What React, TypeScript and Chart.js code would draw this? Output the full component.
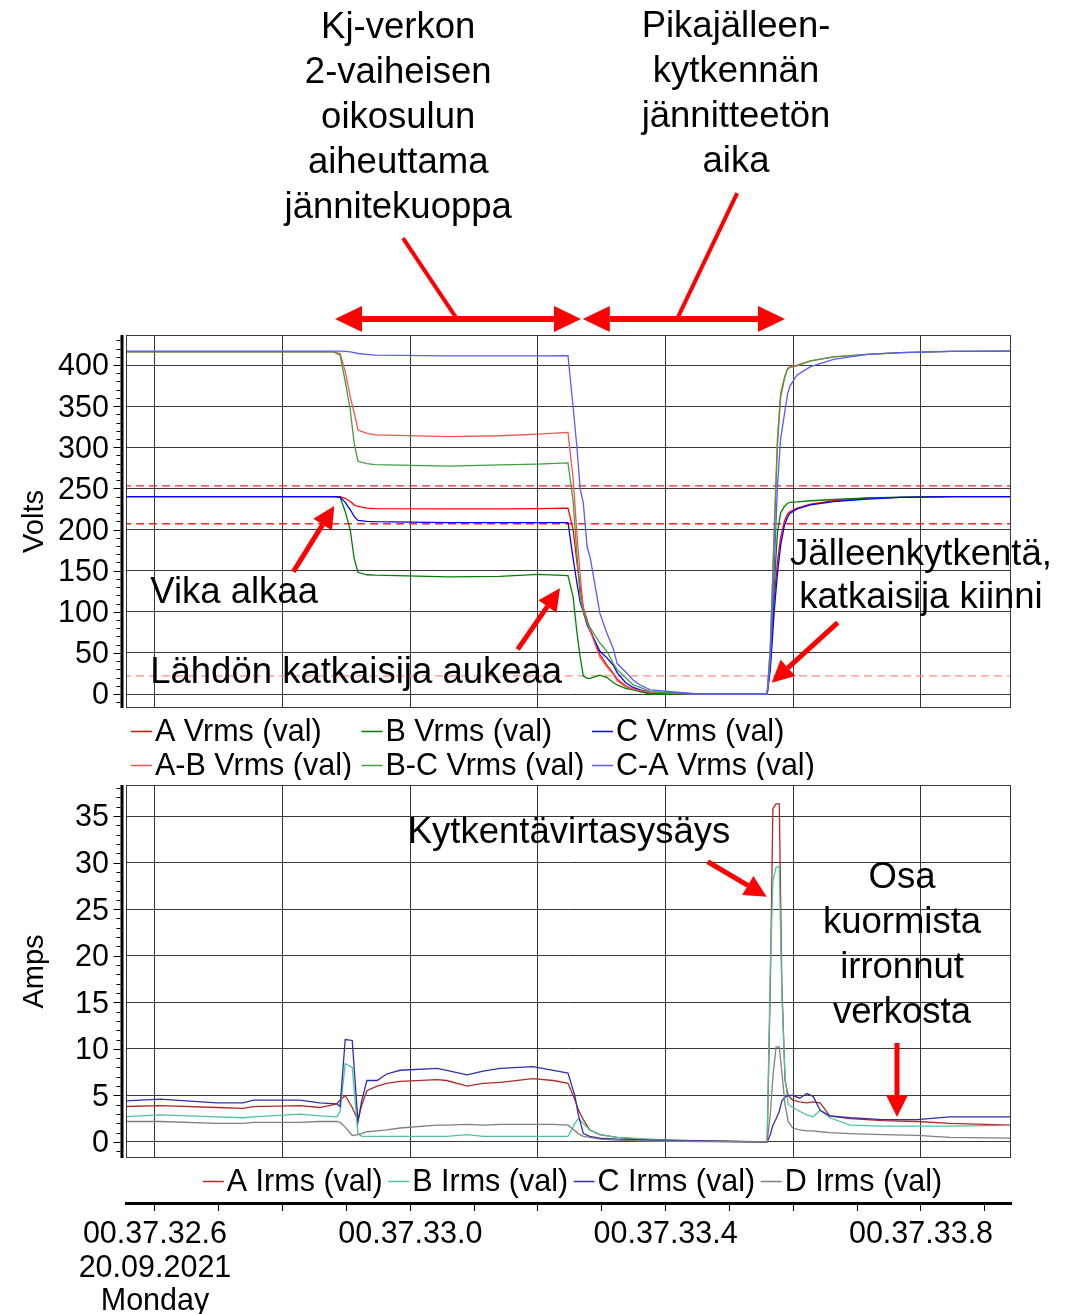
import React, { useEffect, useRef } from 'react';
import { Chart, registerables } from 'chart.js';

Chart.register(...registerables);

const FONT = '"Liberation Sans", Arial, Helvetica, sans-serif';
Chart.defaults.font.family = FONT;
Chart.defaults.color = '#000';

// ---------- time axis (seconds of 00.37.xx) ----------
const timeMin = 32.5546;
const timeMax = 33.941;
const timeTickValues = [32.6, 33.0, 33.4, 33.8];
const timeTickLabels = [['00.37.32.6', '20.09.2021', 'Monday'], ['00.37.33.0'], ['00.37.33.4'], ['00.37.33.8']];

// ---------- voltage chart ----------
const voltTimes = [32.55, 32.7, 32.88, 32.89, 32.898, 32.906, 32.912, 32.918, 32.932, 32.945,
  33.06, 33.14, 33.2, 33.247,
  33.255, 33.261, 33.266, 33.271, 33.277, 33.282, 33.297, 33.308, 33.318, 33.324, 33.337, 33.349, 33.36, 33.376, 33.45,
  33.559, 33.564, 33.57, 33.575, 33.58, 33.586, 33.591, 33.595, 33.606, 33.627, 33.663, 33.716, 33.768, 33.846, 33.95];
const aVrms = [240, 240, 240, 240, 238, 234, 230, 228, 226, 225.5,
  225, 225, 225.5, 226,
  200, 160, 130, 105, 90, 78, 48, 35, 25, 18, 10, 6, 3, 1, 0,
  0, 38, 115, 160, 190, 210, 219, 222, 226, 231, 235, 238, 239, 240, 240];
const bVrms = [240, 240, 240, 239, 222, 199, 165, 148, 145, 144.5,
  142.5, 143, 145.5, 144,
  118, 75, 45, 22, 19, 19, 23, 20, 14, 11, 7, 5, 3, 0, 0,
  0, 40, 130, 195, 220, 228, 232, 233, 233.5, 235, 236.5, 238.5, 239.5, 240, 240];
const cVrms = [240, 240, 240, 239.5, 233, 224, 216, 211, 210, 209.5,
  208.5, 208.5, 208.5, 208.5,
  165, 135, 112, 100, 84, 76, 52, 44, 35, 26, 14, 8, 5, 2, 0,
  0, 30, 100, 145, 180, 205, 215, 220, 225, 230, 234, 237, 239, 240, 240];
const abVrms = [416, 416, 416, 414, 392, 361, 342, 321, 317, 315,
  313, 314, 316, 318,
  262, 195, 145, 104, 88, 76, 45, 33, 24, 16, 9, 6, 4, 2, 0,
  0, 60, 200, 310, 365, 385, 396, 398, 400, 405, 410, 413, 415, 416.5, 417];
const bcVrms = [416, 416, 416, 412, 380, 345, 305, 283, 280, 279,
  277, 278.5, 279.5, 281,
  235, 170, 118, 100, 86, 80, 62, 52, 37, 30, 20, 11, 8, 3, 0,
  0, 55, 190, 300, 360, 383, 395, 397, 399, 405, 410, 413, 415, 416.5, 417];
const caVrms = [417, 417, 417, 417, 416.5, 416, 415, 414, 413, 412,
  411, 411, 411, 411.5,
  349, 300, 250, 232, 179, 165, 98, 74, 55, 37, 27, 17, 11, 5, 0,
  0, 40, 150, 250, 310, 340, 365, 375, 388, 398, 407, 413, 415, 416.5, 417];
const voltSeries = [aVrms, bVrms, cVrms, abVrms, bcVrms, caVrms];
const voltLabels = ['A Vrms (val)', 'B Vrms (val)', 'C Vrms (val)', 'A-B Vrms (val)', 'B-C Vrms (val)', 'C-A Vrms (val)'];
const voltColors = ['#ff0000', '#008000', '#0000ff', '#ff5050', '#40a040', '#5a5aff'];
const voltLimits = [253, 207, 22];
const voltLimitColors = ['#ff2020', '#ff2020', '#ff8c8c'];
const voltMin = -17;
const voltMax = 436.5;
const voltTickValues = [0, 50, 100, 150, 200, 250, 300, 350, 400];

// ---------- current chart ----------
const curTimes = [32.55, 32.608, 32.697, 32.738, 32.754, 32.827, 32.858, 32.885, 32.89, 32.898,
  32.909, 32.918, 32.924, 32.932, 32.948, 32.963, 32.984, 33.042, 33.057, 33.089,
  33.114, 33.141, 33.192, 33.224, 33.247, 33.258, 33.263, 33.271, 33.281, 33.297,
  33.324, 33.375, 33.454, 33.559, 33.564, 33.568, 33.573, 33.578, 33.582, 33.587,
  33.592, 33.599, 33.61, 33.621, 33.631, 33.642, 33.657, 33.689, 33.74, 33.794,
  33.845, 33.95];
const aIrms = [3.8, 3.9, 3.7, 3.6, 3.8, 3.9, 3.7, 4.1, 4.5, 5.0,
  3.7, 2.3, 4.0, 5.5, 6.0, 6.3, 6.5, 6.7, 6.6, 6.0,
  6.3, 6.4, 6.8, 6.6, 6.3, 4.5, 3.5, 2.4, 1.3, 0.8,
  0.5, 0.2, 0.1, 0, 17, 35.8, 36.3, 36.3, 17, 6.6,
  5.0, 4.5, 4.3, 4.2, 4.3, 4.2, 2.8, 2.5, 2.3, 2.2,
  2.0, 1.8];
const bIrms = [2.7, 2.9, 2.7, 2.6, 2.7, 3.0, 2.8, 2.7, 3.3, 8.4,
  8.0, 0.9, 0.6, 0.6, 0.6, 0.6, 0.6, 0.6, 0.6, 0.8,
  0.6, 0.6, 0.6, 0.6, 0.6, 2.0, 2.5, 2.0, 1.3, 0.8,
  0.5, 0.3, 0.1, 0, 18.8, 28.0, 29.5, 29.6, 16, 7,
  4.0, 3.7, 3.3, 2.9, 2.7, 3.4, 2.6, 1.8, 1.7, 1.7,
  1.7, 1.8];
const cIrms = [4.4, 4.6, 4.2, 4.2, 4.5, 4.5, 4.2, 4.1, 3.8, 11.0,
  10.9, 2.2, 4.5, 6.6, 6.6, 7.3, 7.7, 7.9, 7.7, 7.2,
  7.6, 7.9, 8.1, 7.7, 7.4, 4.9, 3.0, 0.9, 0.6, 0.4,
  0.3, 0.2, 0.15, 0, 0.8, 1.8, 2.5, 3.3, 4.4, 4.8,
  5.0, 5.0, 4.7, 5.2, 4.9, 3.4, 2.8, 2.6, 2.4, 2.4,
  2.7, 2.7];
const dIrms = [2.2, 2.2, 2.0, 2.0, 2.1, 2.1, 2.2, 2.2, 2.1, 1.6,
  0.7, 0.8, 0.9, 1.1, 1.2, 1.3, 1.5, 1.8, 1.8, 1.9,
  1.8, 1.9, 1.9, 1.9, 1.8, 1.2, 0.9, 0.6, 0.5, 0.3,
  0.2, 0.1, 0.05, 0, 3.0, 7.0, 10.2, 10.2, 7.5, 4.0,
  2.2, 1.5, 1.3, 1.2, 1.2, 1.1, 1.0, 0.9, 0.8, 0.7,
  0.5, 0.4];
const curSeries = [aIrms, bIrms, cIrms, dIrms];
const curLabels = ['A Irms (val)', 'B Irms (val)', 'C Irms (val)', 'D Irms (val)'];
const curColors = ['#b02a2a', '#4cc49a', '#3030aa', '#808080'];
const curMin = -1.72;
const curMax = 38.33;
const curTickValues = [0, 5, 10, 15, 20, 25, 30, 35];

// ---------- annotations (time, value anchors; text baseline at anchor) ----------
const voltNotes = {
  texts: [
    { t: 32.981, v: 797.6, align: 'center', gap: 45, lines: ['Kj-verkon', '2-vaiheisen', 'oikosulun', 'aiheuttama', 'jännitekuoppa'] },
    { t: 33.5102, v: 798.4, align: 'center', gap: 45, lines: ['Pikajälleen-', 'kytkennän', 'jännitteetön', 'aika'] },
    { t: 32.5925, v: 110.6, align: 'left', gap: 0, lines: ['Vika alkaa'] },
    { t: 32.5925, v: 13.4, align: 'left', gap: 0, lines: ['Lähdön katkaisija aukeaa'] },
    { t: 33.8, v: 156.8, align: 'center', gap: 43, lines: ['Jälleenkytkentä,', 'katkaisija kiinni'] },
  ],
  spans: [{ t1: 32.882, t2: 33.2674, v: 456 }, { t1: 33.2702, t2: 33.587, v: 456 }],
  links: [{ t1: 32.9885, v1: 554.4, t2: 33.073, v2: 456 }, { t1: 33.512, v1: 609.1, t2: 33.418, v2: 456 }],
  arrows: [
    { t1: 32.8167, v1: 148.7, t2: 32.8809, v2: 228.6 },
    { t1: 33.1682, v1: 54.3, t2: 33.2345, v2: 128.5 },
    { t1: 33.6695, v1: 86.7, t2: 33.5661, v2: 13.7 },
  ],
};
const curNotes = {
  texts: [
    { t: 33.2486, v: 32.1, align: 'center', gap: 0, lines: ['Kytkentävirtasysäys'] },
    { t: 33.7703, v: 27.27, align: 'center', gap: 45, lines: ['Osa', 'kuormista', 'irronnut', 'verkosta'] },
  ],
  spans: [],
  links: [],
  arrows: [
    { t1: 33.4659, v1: 30.09, t2: 33.5583, v2: 26.34 },
    { t1: 33.7624, v1: 10.63, t2: 33.7624, v2: 2.68 },
  ],
};

const GRID = '#383838';
const TEXT_SIZE = 30.5;
const NOTE_SIZE = 36.5;

const isIn = (list: number[], v: number) => list.some((x) => Math.abs(x - v) < 1e-6);

function drawArrow(ctx: any, x1: number, y1: number, x2: number, y2: number, w: number, hl: number, hw: number) {
  const a = Math.atan2(y2 - y1, x2 - x1);
  const bx = x2 - hl * Math.cos(a);
  const by = y2 - hl * Math.sin(a);
  ctx.lineWidth = w;
  ctx.beginPath();
  ctx.moveTo(x1, y1);
  ctx.lineTo(bx, by);
  ctx.stroke();
  ctx.beginPath();
  ctx.moveTo(x2, y2);
  ctx.lineTo(bx + hw * Math.sin(a), by - hw * Math.cos(a));
  ctx.lineTo(bx - hw * Math.sin(a), by + hw * Math.cos(a));
  ctx.closePath();
  ctx.fill();
}

function makeFramePlugin(labeled: number[]) {
  return {
    id: 'frameAxis',
    afterDraw(chart: any) {
      const { ctx, chartArea } = chart;
      const { left, top, right, bottom } = chartArea;
      const ys = chart.scales.y;
      ctx.save();
      ctx.strokeStyle = '#383838';
      ctx.lineWidth = 1;
      ctx.strokeRect(left + 0.5, top + 0.5, right - left - 1, bottom - top - 1);
      const ax = left - 4;
      ctx.strokeStyle = '#000';
      ctx.lineWidth = 3;
      ctx.beginPath();
      ctx.moveTo(ax, top);
      ctx.lineTo(ax, bottom);
      ctx.stroke();
      ctx.lineWidth = 1;
      ys.ticks.forEach((tk: any) => {
        const y = Math.round(ys.getPixelForValue(tk.value)) + 0.5;
        if (y < top || y > bottom) return;
        const len = isIn(labeled, tk.value) ? 7 : 4;
        ctx.beginPath();
        ctx.moveTo(ax - 1.5 - len, y);
        ctx.lineTo(ax - 1.5, y);
        ctx.stroke();
      });
      ctx.restore();
    },
  };
}

function makeLegendPlugin(cfg: any) {
  return {
    id: 'sketchLegend',
    afterDraw(chart: any) {
      const { ctx, chartArea } = chart;
      const items = chart.data.datasets.slice(0, cfg.count);
      ctx.save();
      ctx.font = `${TEXT_SIZE}px ${FONT}`;
      ctx.textBaseline = 'middle';
      ctx.textAlign = 'left';
      const drawItem = (x: number, y: number, ds: any) => {
        ctx.strokeStyle = ds.borderColor;
        ctx.lineWidth = 1.5;
        ctx.beginPath();
        ctx.moveTo(x, y + 0.5);
        ctx.lineTo(x + cfg.seg, y + 0.5);
        ctx.stroke();
        ctx.fillStyle = '#000';
        ctx.fillText(ds.label, x + cfg.seg + cfg.gap, y + 2);
      };
      if (cfg.mode === 'grid') {
        items.forEach((ds: any, i: number) => {
          const col = i % cfg.cols;
          const row = Math.floor(i / cfg.cols);
          drawItem(chartArea.left + cfg.x0 + col * cfg.colW, chartArea.bottom + cfg.rows[row], ds);
        });
      } else {
        const widths = items.map((ds: any) => cfg.seg + cfg.gap + ctx.measureText(ds.label).width);
        const total = widths.reduce((a: number, b: number) => a + b, 0) + cfg.itemGap * (items.length - 1);
        let x = (chartArea.left + chartArea.right) / 2 + cfg.shift - total / 2;
        items.forEach((ds: any, i: number) => {
          drawItem(x, chartArea.bottom + cfg.rows[0], ds);
          x += widths[i] + cfg.itemGap;
        });
      }
      ctx.restore();
    },
  };
}

function makeNotesPlugin(spec: any) {
  return {
    id: 'notes',
    afterDraw(chart: any) {
      const { ctx } = chart;
      const xs = chart.scales.x;
      const ys = chart.scales.y;
      const P = (t: number, v: number) => [xs.getPixelForValue(t), ys.getPixelForValue(v)];
      ctx.save();
      ctx.strokeStyle = '#ff0000';
      ctx.fillStyle = '#ff0000';
      ctx.lineCap = 'butt';
      spec.links.forEach((l: any) => {
        const [x1, y1] = P(l.t1, l.v1);
        const [x2, y2] = P(l.t2, l.v2);
        ctx.lineWidth = 4;
        ctx.beginPath();
        ctx.moveTo(x1, y1);
        ctx.lineTo(x2, y2);
        ctx.stroke();
      });
      spec.spans.forEach((s: any) => {
        const [x1, y] = P(s.t1, s.v);
        const [x2] = P(s.t2, s.v);
        const mid = (x1 + x2) / 2;
        drawArrow(ctx, mid, y, x1, y, 6, 27, 13);
        drawArrow(ctx, mid, y, x2, y, 6, 27, 13);
      });
      spec.arrows.forEach((a: any) => {
        const [x1, y1] = P(a.t1, a.v1);
        const [x2, y2] = P(a.t2, a.v2);
        drawArrow(ctx, x1, y1, x2, y2, 5, 22, 11);
      });
      ctx.fillStyle = '#000';
      ctx.textBaseline = 'alphabetic';
      ctx.font = `${NOTE_SIZE}px ${FONT}`;
      spec.texts.forEach((tx: any) => {
        ctx.textAlign = tx.align;
        const [x, y] = P(tx.t, tx.v);
        tx.lines.forEach((s: string, i: number) => ctx.fillText(s, x, y + i * tx.gap));
      });
      ctx.restore();
    },
  };
}

const pts = (ts: number[], vs: number[]) => vs.map((v, i) => ({ x: ts[i], y: v }));

function timeGridScale(height: number) {
  return {
    type: 'linear',
    min: timeMin,
    max: timeMax,
    ticks: { display: false, stepSize: 0.2, autoSkip: false, includeBounds: false },
    grid: { color: GRID, lineWidth: 1, drawTicks: false },
    border: { display: false },
    afterFit: (s: any) => {
      s.height = height;
      s.paddingLeft = 0;
      s.paddingRight = 0;
    },
  };
}

function valueScale(min: number, max: number, step: number, labeled: number[], title: string) {
  return {
    type: 'linear',
    min,
    max,
    ticks: {
      stepSize: step,
      autoSkip: false,
      includeBounds: false,
      padding: 17,
      labelOffset: 2,
      color: '#000',
      font: { family: FONT, size: TEXT_SIZE },
      callback: (v: number) => (isIn(labeled, v) ? String(Math.round(v)) : ''),
    },
    grid: {
      drawTicks: false,
      lineWidth: 1,
      color: (c: any) => (c.tick && isIn(labeled, c.tick.value) ? GRID : 'rgba(0,0,0,0)'),
    },
    border: { display: false },
    title: { display: true, text: title, color: '#000', font: { family: FONT, size: 29 }, padding: { top: 18, bottom: 0 } },
    afterFit: (s: any) => {
      s.width = 126;
      s.paddingTop = 0;
      s.paddingBottom = 0;
    },
  };
}

function lineDataset(label: string, color: string, data: any[], order: number) {
  return { label, data, order, borderColor: color, backgroundColor: color, borderWidth: 1.3, pointRadius: 0, tension: 0, fill: false };
}

function voltConfig(): any {
  // later series are painted on top, as in the reference
  const datasets: any[] = voltSeries.map((s, i) => lineDataset(voltLabels[i], voltColors[i], pts(voltTimes, s), 10 - i));
  voltLimits.forEach((lv, i) => {
    datasets.push({
      ...lineDataset('limit ' + lv, voltLimitColors[i], [{ x: voltTimes[0], y: lv }, { x: voltTimes[voltTimes.length - 1], y: lv }], 20),
      borderDash: [8, 5],
    });
  });
  return {
    type: 'line',
    data: { datasets },
    options: {
      responsive: false,
      animation: false,
      events: [],
      layout: { autoPadding: false, padding: { top: 335, right: 70, left: 0, bottom: 0 } },
      plugins: { legend: { display: false }, tooltip: { enabled: false } },
      scales: {
        x: timeGridScale(72),
        y: valueScale(voltMin, voltMax, 10, voltTickValues, 'Volts'),
      },
    },
    plugins: [
      makeFramePlugin(voltTickValues),
      makeLegendPlugin({ mode: 'grid', count: 6, cols: 3, x0: 5, colW: 230.5, rows: [23, 57], seg: 21, gap: 3 }),
      makeNotesPlugin(voltNotes),
    ],
  };
}

function curConfig(): any {
  const datasets = curSeries.map((s, i) => lineDataset(curLabels[i], curColors[i], pts(curTimes, s), 10 - i));
  return {
    type: 'line',
    data: { datasets },
    options: {
      responsive: false,
      animation: false,
      events: [],
      layout: { autoPadding: false, padding: { top: 5, right: 70, left: 0, bottom: 0 } },
      plugins: { legend: { display: false }, tooltip: { enabled: false } },
      scales: {
        x: { ...timeGridScale(45), position: 'bottom', weight: 0 },
        xt: {
          type: 'linear',
          axis: 'x',
          position: 'bottom',
          weight: 1,
          min: timeMin,
          max: timeMax,
          ticks: {
            stepSize: 0.1,
            autoSkip: false,
            includeBounds: false,
            maxRotation: 0,
            minRotation: 0,
            padding: 7,
            color: '#000',
            font: { family: FONT, size: TEXT_SIZE, lineHeight: 1.1 },
            callback: (v: number) => {
              const i = timeTickValues.findIndex((t) => Math.abs(t - v) < 1e-6);
              return i >= 0 ? timeTickLabels[i] : '';
            },
          },
          grid: { drawOnChartArea: false, drawTicks: true, tickLength: 8, color: '#000', lineWidth: 1 },
          border: { display: true, width: 3, color: '#000' },
          afterFit: (s: any) => {
            s.height = 111;
            s.paddingLeft = 0;
            s.paddingRight = 0;
          },
        },
        y: valueScale(curMin, curMax, 1, curTickValues, 'Amps'),
      },
    },
    plugins: [
      makeFramePlugin(curTickValues),
      makeLegendPlugin({ mode: 'row', count: 4, rows: [23], seg: 21, gap: 3, itemGap: 5.5, shift: 4 }),
      makeNotesPlugin(curNotes),
    ],
  };
}

export default function App() {
  const topRef = useRef<HTMLCanvasElement>(null);
  const botRef = useRef<HTMLCanvasElement>(null);
  useEffect(() => {
    const c1 = new Chart(topRef.current as HTMLCanvasElement, voltConfig());
    const c2 = new Chart(botRef.current as HTMLCanvasElement, curConfig());
    return () => {
      c1.destroy();
      c2.destroy();
    };
  }, []);
  return (
    <div style={{ position: 'absolute', left: 0, top: 0, width: 1081, height: 1314, background: '#fff', overflow: 'hidden' }}>
      <canvas ref={topRef} width={1081} height={780} style={{ position: 'absolute', left: 0, top: 0, width: 1081, height: 780 }} />
      <canvas ref={botRef} width={1081} height={534} style={{ position: 'absolute', left: 0, top: 780, width: 1081, height: 534 }} />
    </div>
  );
}
